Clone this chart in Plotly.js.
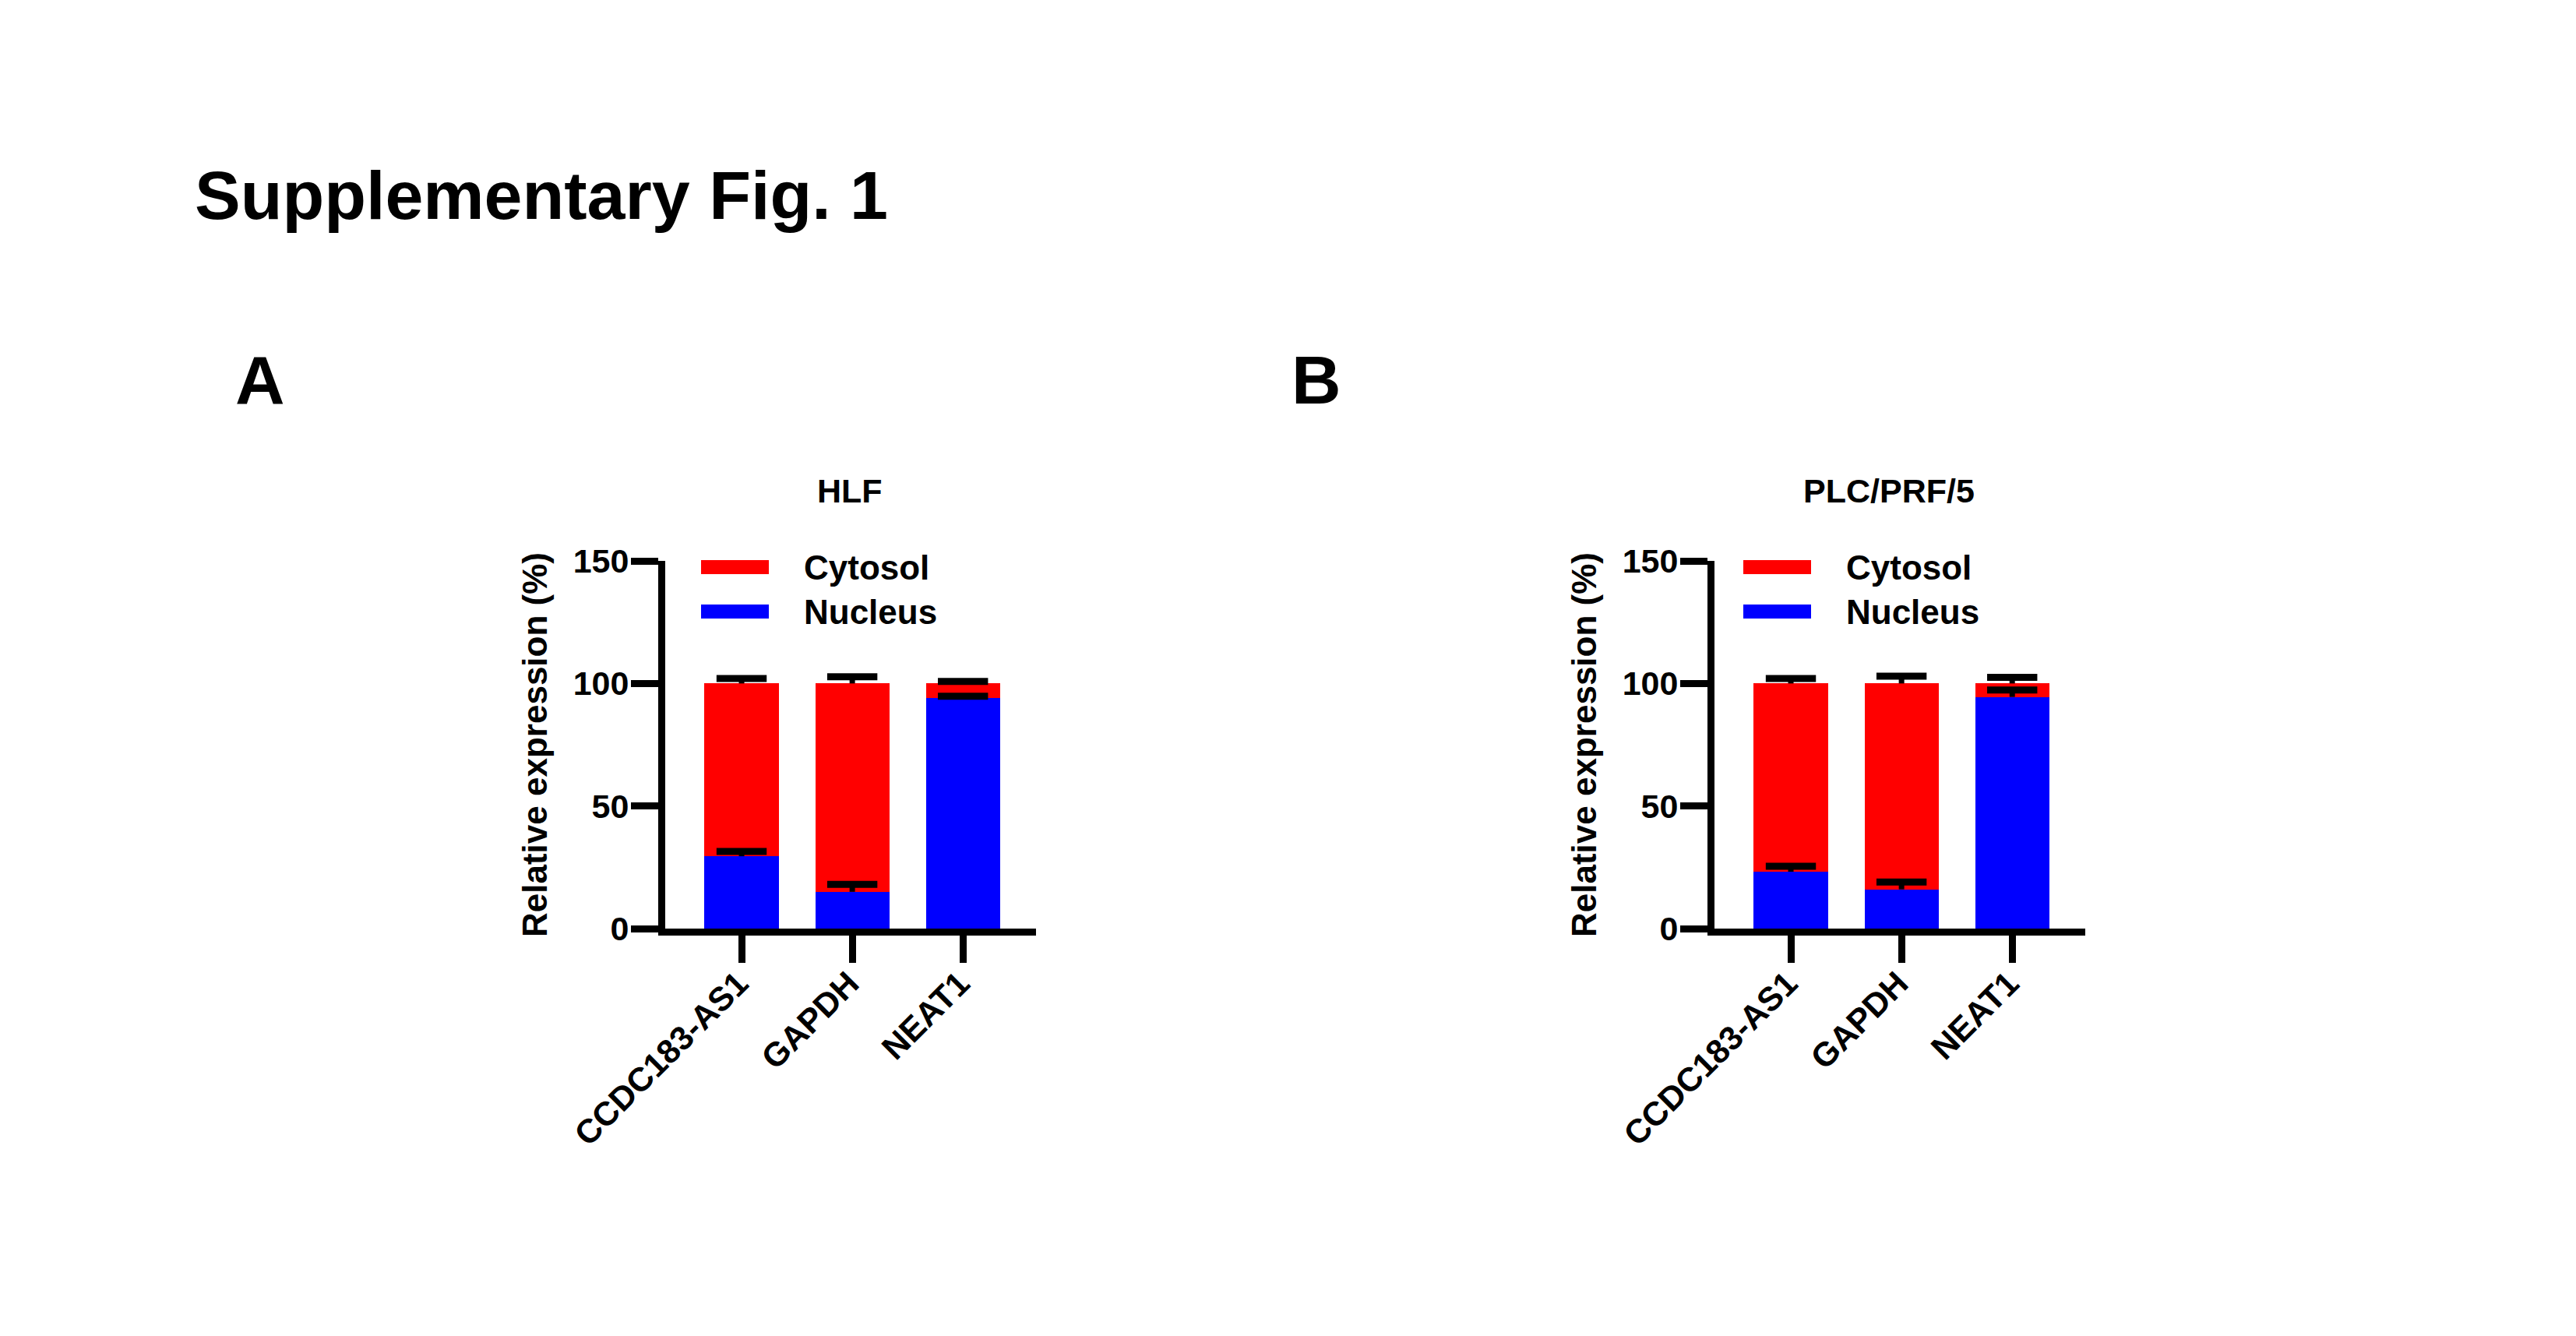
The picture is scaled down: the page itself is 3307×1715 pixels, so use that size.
<!DOCTYPE html>
<html>
<head>
<meta charset="utf-8">
<script src="https://cdn.plot.ly/plotly-3.0.1.min.js"></script>
<style>
  html, body { margin: 0; padding: 0; background: #fff; }
  #myDiv { width: 3307px; height: 1715px; }
</style>
</head>
<body>
<div id="myDiv"></div>
<script>
// genes on the x axis
let genes = ["CCDC183-AS1", "GAPDH", "NEAT1"];

// HLF cells, % of total expression
let hlfNucleus = [29.5, 15, 94];
let hlfNucleusErr = [2, 3, 0.8];
let hlfCytosol = [70.5, 85, 6];
let hlfCytosolErr = [2, 2.7, 0.8];

// PLC/PRF/5 cells
let plcNucleus = [23.2, 16, 94.5];
let plcNucleusErr = [2.2, 3, 2.8];
let plcCytosol = [76.8, 84, 5.5];
let plcCytosolErr = [2, 3, 2.5];

let yTicks = [0, 50, 100, 150];

let red = "#FF0000";
let blue = "#0000FF";
let font = "Liberation Sans, Arial, Helvetica, sans-serif";

// figure is 3307 x 1715 px, helpers to go from pixels to paper
let W = 3307;
let H = 1715;
let px = (v) => v / W;
let py = (v) => 1 - v / H;

function barTrace(y, color, name, xa, ya) {
  return {
    type: "bar",
    x: genes,
    y: y,
    name: name,
    xaxis: xa,
    yaxis: ya,
    showlegend: false,
    marker: { color: color, line: { width: 0 } },
  };
}

// upper-only error bar: a flat marker is the cap at mean+sd,
// the error stem runs down from it to the bar top
function errTrace(top, err, xa, ya) {
  return {
    type: "scatter",
    mode: "markers",
    x: genes,
    y: top.map((v, i) => v + err[i]),
    xaxis: xa,
    yaxis: ya,
    showlegend: false,
    marker: { symbol: "line-ew", size: 46, color: "#000", line: { width: 9, color: "#000" } },
    error_y: {
      type: "data",
      array: err.map(() => 0),
      arrayminus: err,
      symmetric: false,
      color: "#000",
      thickness: 7,
      width: 0,
    },
  };
}

let sum = (a, b) => a.map((v, i) => v + b[i]);

let data = [
  barTrace(hlfNucleus, blue, "Nucleus", "x", "y"),
  barTrace(hlfCytosol, red, "Cytosol", "x", "y"),
  barTrace(plcNucleus, blue, "Nucleus", "x2", "y2"),
  barTrace(plcCytosol, red, "Cytosol", "x2", "y2"),
  errTrace(hlfNucleus, hlfNucleusErr, "x", "y"),
  errTrace(sum(hlfNucleus, hlfCytosol), hlfCytosolErr, "x", "y"),
  errTrace(plcNucleus, plcNucleusErr, "x2", "y2"),
  errTrace(sum(plcNucleus, plcCytosol), plcCytosolErr, "x2", "y2"),
];

function xAxis(domain, anchor) {
  return {
    domain: domain,
    anchor: anchor,
    type: "category",
    range: [-0.69, 2.66],
    showline: true,
    linecolor: "#000",
    linewidth: 9,
    ticks: "outside",
    ticklen: 35,
    tickwidth: 9,
    tickcolor: "#000",
    tickangle: -45,
    ticklabelshift: -4,
    ticklabelstandoff: -16,
    tickfont: { family: font, size: 43, color: "#000", weight: "bold" },
    showgrid: false,
    zeroline: false,
    fixedrange: true,
  };
}

function yAxis(anchor) {
  return {
    domain: [py(1192), py(720)],
    anchor: anchor,
    range: [0, 150],
    tickvals: yTicks,
    showline: true,
    linecolor: "#000",
    linewidth: 9,
    ticks: "outside",
    ticklen: 35,
    tickwidth: 9,
    tickcolor: "#000",
    ticklabelstandoff: -6,
    tickfont: { family: font, size: 43, color: "#000", weight: "bold" },
    showgrid: false,
    zeroline: false,
    fixedrange: true,
    title: {
      text: "Relative expression (%)",
      font: { family: font, size: 44, color: "#000", weight: "bold" },
      standoff: 23,
    },
  };
}

// legend drawn by hand so the swatches get the long flat GraphPad look
let shapes = [];
let annotations = [
  { text: "Supplementary Fig. 1", x: px(248), y: py(250), size: 88, xanchor: "left" },
  { text: "A", x: px(334), y: py(488), size: 88, xanchor: "center" },
  { text: "B", x: px(1690), y: py(488), size: 88, xanchor: "center" },
  { text: "HLF", x: px(1091), y: py(630), size: 43, xanchor: "center" },
  { text: "PLC/PRF/5", x: px(2425), y: py(630), size: 43, xanchor: "center" },
].map((a) => ({
  text: a.text,
  x: a.x,
  y: a.y,
  xref: "paper",
  yref: "paper",
  xanchor: a.xanchor,
  yanchor: "middle",
  showarrow: false,
  font: { family: font, size: a.size, color: "#000", weight: "bold" },
}));

[
  { left: 900, textLeft: 1030 },
  { left: 2238, textLeft: 2368 },
].forEach((leg) => {
  [
    { name: "Cytosol", color: red, yc: 728 },
    { name: "Nucleus", color: blue, yc: 785 },
  ].forEach((item) => {
    shapes.push({
      type: "rect",
      xref: "paper",
      yref: "paper",
      x0: px(leg.left),
      x1: px(leg.left + 87),
      y0: py(item.yc - 9),
      y1: py(item.yc + 9),
      fillcolor: item.color,
      line: { width: 0 },
    });
    annotations.push({
      text: item.name,
      xref: "paper",
      yref: "paper",
      x: px(leg.textLeft),
      y: py(item.yc),
      xanchor: "left",
      yanchor: "middle",
      showarrow: false,
      font: { family: font, size: 44, color: "#000", weight: "bold" },
    });
  });
});

let layout = {
  width: W,
  height: H,
  margin: { l: 0, r: 0, t: 0, b: 0 },
  paper_bgcolor: "#fff",
  plot_bgcolor: "#fff",
  barmode: "stack",
  bargap: 0.33,
  showlegend: false,
  xaxis: xAxis([px(854), px(1330)], "y"),
  yaxis: yAxis("x"),
  xaxis2: xAxis([px(2201), px(2677)], "y2"),
  yaxis2: yAxis("x2"),
  shapes: shapes,
  annotations: annotations,
};

Plotly.newPlot("myDiv", data, layout, { displayModeBar: false, staticPlot: true });
</script>
</body>
</html>
